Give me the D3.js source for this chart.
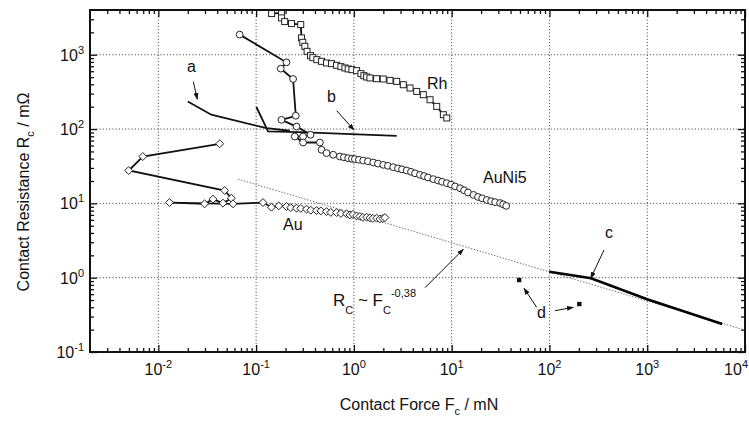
<!DOCTYPE html>
<html><head><meta charset="utf-8">
<script src="https://cdn.jsdelivr.net/npm/d3@7"></script>
<style>
body{margin:0;background:#fff;}
svg text{font-family:"Liberation Sans", Arial, Helvetica, sans-serif; fill:#111;}
</style></head><body>
<svg id="chart" width="749" height="421"></svg>
<script>
// ---- tick labels ----
const xTickValues = [0.01, 0.1, 1, 10, 100, 1000, 10000];
const xTickExponents = ["-2", "-1", "0", "1", "2", "3", "4"];
const yTickValues = [0.1, 1, 10, 100, 1000];
const yTickExponents = ["-1", "0", "1", "2", "3"];

// ---- Rh (squares) ----
const rhForce = [0.144,0.182,0.182,0.196,0.230,0.286,0.291,0.300,0.315,0.332,0.360,0.380,0.418,0.467,0.525,0.591,0.665,0.736,0.809,0.874,0.954,1.066,1.18,1.266,1.349,1.459,1.708,1.996,2.339,2.739,3.2,3.75,4.39,5.13,6.01,7.03,8.22,8.91];
const rhResistance = [3580,3660,3133,2793,2625,2545,1685,1469,1298,1111,972,914,859,815,775,759,720,691,664,644,630,611,556,523,502,487,476,472,452,438,395,357,321,290,248,202,156,141];

// ---- AuNi5 (circles) ----
const auni5Force = [0.0679,0.2044,0.1787,0.2388,0.2545,0.1816,0.2588,0.360,0.302,0.2485,0.302,0.449,0.467,0.525,0.614,0.719,0.790,0.874,0.954,1.024,1.125,1.245,1.391,1.577,1.762,1.996,2.229,2.527,2.824,3.103,3.467,3.837,4.217,4.745,5.215,5.73,6.49,7.26,7.97,8.91,9.86,10.83,12.19,13.4,14.7,16.7,18.6,20.5,22.9,25.3,27.8,31.3,33.6,36.1];
const auni5Resistance = [1866,790,650,472,151,133,108,83.8,79.4,79.4,65.9,65.9,52.6,47.5,45.1,42.7,41.7,40.6,39.8,39.4,38.6,37.7,36.8,35.5,34.3,33.0,32.0,30.7,29.6,28.7,27.7,26.6,25.4,24.2,23.3,22.3,21.2,20.3,19.5,18.7,17.9,16.9,16.0,15.0,14.0,13.0,12.2,11.7,11.1,10.7,10.4,10.1,9.7,9.25];

// ---- Au (diamonds) ----
const auForce = [0.0424,0.00694,0.00498,0.0477,0.0558,0.0458,0.0362,0.0297,0.0130,0.058,0.1177,0.1435,0.1704,0.2044,0.2262,0.2588,0.2864,0.3276,0.3625,0.4148,0.459,0.525,0.581,0.665,0.736,0.842,0.910,0.977,1.066,1.152,1.236,1.349,1.459,1.565,1.708,1.846,1.982,2.078];
const auResistance = [63.4,42.7,27.7,14.9,11.75,10.06,11.4,9.85,10.25,9.85,10.25,8.89,9.25,9.06,8.75,8.62,8.56,8.35,8.09,8.0,7.92,7.75,7.56,7.52,7.33,7.22,7.0,7.11,6.78,6.68,6.48,6.52,6.38,6.28,6.32,6.18,6.26,6.44];

// ---- curves a, b, c ----
const aForce = [0.02, 0.0348, 0.1276, 0.221];
const aResistance = [235, 156, 103, 94.9];
const bForce = [0.1007, 0.1324, 0.28, 2.74];
const bResistance = [198, 92.9, 91.2, 81.2];
const cForce = [99.5, 191, 266, 998, 5850];
const cResistance = [1.205, 1.054, 0.982, 0.512, 0.238];

// ---- points d ----
const dForce = [49, 202];
const dResistance = [0.93, 0.442];

// ---- fit R ~ F^-0.38 (end points) ----
const fitForce = [0.0653, 10000];
const fitResistance = [21.2, 0.197];

const zip = (a, b) => a.map((v, i) => [v, b[i]]);

const svg = d3.select("#chart");
const L = 90, R = 745, T = 10, B = 352;
const x = d3.scaleLog().domain([0.002, 10000]).range([L, R]);
const y = d3.scaleLog().domain([0.1, 4000]).range([B, T]);

const defs = svg.append("defs");
defs.append("marker").attr("id", "arr").attr("viewBox", "0 0 10 10")
  .attr("refX", 9).attr("refY", 5).attr("markerWidth", 7).attr("markerHeight", 7)
  .attr("orient", "auto").attr("markerUnits", "userSpaceOnUse")
  .append("path").attr("d", "M0,1.5 L10,5 L0,8.5 z").attr("fill", "#111");
defs.append("clipPath").attr("id", "plotclip").append("rect")
  .attr("x", L).attr("y", T).attr("width", R - L).attr("height", B - T);

// grid
const grid = svg.append("g").attr("stroke", "#444").attr("stroke-width", 0.9).attr("stroke-dasharray", "1.2,2");
grid.selectAll("line.gx").data(xTickValues.filter(v => v < 10000)).join("line")
  .attr("x1", d => x(d)).attr("x2", d => x(d)).attr("y1", T).attr("y2", B);
grid.selectAll("line.gy").data(yTickValues.filter(v => v > 0.1)).join("line")
  .attr("y1", d => y(d)).attr("y2", d => y(d)).attr("x1", L).attr("x2", R);

// minor tick values
const xMinor = [];
for (let e = -3; e <= 3; e++) for (let m = 2; m <= 9; m++) { const v = m * Math.pow(10, e); if (v > 0.002 && v < 10000) xMinor.push(v); }
const yMinor = [];
for (let e = -1; e <= 3; e++) for (let m = 2; m <= 9; m++) { const v = m * Math.pow(10, e); if (v > 0.1 && v < 4000) yMinor.push(v); }

function axisStyle(g) { g.select(".domain").remove(); g.selectAll(".tick line").attr("stroke", "#111").attr("stroke-width", 1.3); }
svg.append("g").attr("transform", `translate(0,${B})`).call(d3.axisBottom(x).tickValues(xTickValues).tickSize(-7).tickFormat("")).call(axisStyle);
svg.append("g").attr("transform", `translate(0,${B})`).call(d3.axisBottom(x).tickValues(xMinor).tickSize(-4).tickFormat("")).call(axisStyle);
svg.append("g").attr("transform", `translate(0,${T})`).call(d3.axisTop(x).tickValues(xTickValues).tickSize(-7).tickFormat("")).call(axisStyle);
svg.append("g").attr("transform", `translate(0,${T})`).call(d3.axisTop(x).tickValues(xMinor).tickSize(-4).tickFormat("")).call(axisStyle);
svg.append("g").attr("transform", `translate(${L},0)`).call(d3.axisLeft(y).tickValues(yTickValues).tickSize(-7).tickFormat("")).call(axisStyle);
svg.append("g").attr("transform", `translate(${L},0)`).call(d3.axisLeft(y).tickValues(yMinor).tickSize(-4).tickFormat("")).call(axisStyle);
svg.append("g").attr("transform", `translate(${R},0)`).call(d3.axisRight(y).tickValues(yTickValues).tickSize(-7).tickFormat("")).call(axisStyle);
svg.append("g").attr("transform", `translate(${R},0)`).call(d3.axisRight(y).tickValues(yMinor).tickSize(-4).tickFormat("")).call(axisStyle);

// tick labels
xTickValues.forEach((v, i) => {
  const last = i === xTickValues.length - 1;
  const t = svg.append("text").attr("x", last ? 748 : x(v)).attr("y", 375)
    .attr("text-anchor", last ? "end" : "middle").attr("font-size", 16);
  t.append("tspan").text("10");
  t.append("tspan").attr("dy", -7).attr("font-size", 11).text(xTickExponents[i]);
});
yTickValues.forEach((v, i) => {
  const t = svg.append("text").attr("x", 84).attr("y", y(v) + 6).attr("text-anchor", "end").attr("font-size", 16);
  t.append("tspan").text("10");
  t.append("tspan").attr("dy", -7).attr("font-size", 11).text(yTickExponents[i]);
});

// axis titles
const xt = svg.append("text").attr("x", 419).attr("y", 410).attr("text-anchor", "middle").attr("font-size", 16);
xt.append("tspan").text("Contact Force F");
xt.append("tspan").attr("dy", 5).attr("font-size", 11).text("c");
xt.append("tspan").attr("dy", -5).text(" / mN");
const yt = svg.append("text").attr("transform", "translate(29,192) rotate(-90)").attr("text-anchor", "middle").attr("font-size", 16);
yt.append("tspan").text("Contact Resistance R");
yt.append("tspan").attr("dy", 5).attr("font-size", 11).text("c");
yt.append("tspan").attr("dy", -5).text(" / m\u03A9");

const plot = svg.append("g").attr("clip-path", "url(#plotclip)");
const line = d3.line().x(d => x(d[0])).y(d => y(d[1]));

// fit line
plot.append("path").datum(zip(fitForce, fitResistance)).attr("d", line)
  .attr("fill", "none").attr("stroke", "#777").attr("stroke-width", 1).attr("stroke-dasharray", "1.5,1.5");

// curves a, b, c
plot.append("path").datum(zip(aForce, aResistance)).attr("d", line).attr("fill", "none").attr("stroke", "#111").attr("stroke-width", 1.8);
plot.append("path").datum(zip(bForce, bResistance)).attr("d", line).attr("fill", "none").attr("stroke", "#111").attr("stroke-width", 1.8);
plot.append("path").datum(zip(cForce, cResistance)).attr("d", line).attr("fill", "none").attr("stroke", "#000").attr("stroke-width", 2.6);

// series lines
[[rhForce, rhResistance], [auni5Force, auni5Resistance], [auForce, auResistance]].forEach(([f, r]) => {
  plot.append("path").datum(zip(f, r)).attr("d", line).attr("fill", "none").attr("stroke", "#111").attr("stroke-width", 1.8);
});

// markers
plot.selectAll("rect.rh").data(zip(rhForce, rhResistance)).join("rect")
  .attr("x", d => x(d[0]) - 3).attr("y", d => y(d[1]) - 3).attr("width", 6).attr("height", 6)
  .attr("fill", "#fff").attr("stroke", "#222").attr("stroke-width", 1);
plot.selectAll("circle.auni").data(zip(auni5Force, auni5Resistance)).join("circle")
  .attr("cx", d => x(d[0])).attr("cy", d => y(d[1])).attr("r", 3.4)
  .attr("fill", "#fff").attr("stroke", "#222").attr("stroke-width", 1);
const diamond = d3.symbol().type(d3.symbolDiamond2).size(40);
plot.selectAll("path.au").data(zip(auForce, auResistance)).join("path")
  .attr("d", diamond).attr("transform", d => `translate(${x(d[0])},${y(d[1])})`)
  .attr("fill", "#fff").attr("stroke", "#222").attr("stroke-width", 1);
plot.selectAll("rect.d").data(zip(dForce, dResistance)).join("rect")
  .attr("x", d => x(d[0]) - 2.2).attr("y", d => y(d[1]) - 2.2).attr("width", 4.4).attr("height", 4.4).attr("fill", "#111");

// frame
svg.append("rect").attr("x", L).attr("y", T).attr("width", R - L).attr("height", B - T)
  .attr("fill", "none").attr("stroke", "#111").attr("stroke-width", 2);

// annotations
const ann = svg.append("g");
function label(t, px, py) { ann.append("text").attr("x", px).attr("y", py).attr("font-size", 16).text(t); }
function arrow(x1, y1, x2, y2) {
  ann.append("line").attr("x1", x1).attr("y1", y1).attr("x2", x2).attr("y2", y2)
    .attr("stroke", "#111").attr("stroke-width", 1).attr("marker-end", "url(#arr)");
}
label("a", 187, 72); arrow(193.3, 81.7, 197.3, 99.3);
label("b", 327, 102); arrow(336.7, 110.7, 354, 130);
label("Rh", 427, 89);
label("AuNi5", 483, 183);
label("Au", 283, 230);
label("c", 605, 238); arrow(604, 250, 590.7, 278.3);
label("d", 537, 318); arrow(536.7, 307.3, 524, 288.3); arrow(555, 310.7, 573.3, 307.3);
const fitText = ann.append("text").attr("x", 333).attr("y", 306).attr("font-size", 17);
fitText.append("tspan").text("R");
fitText.append("tspan").attr("dy", 8).attr("font-size", 11).text("C");
fitText.append("tspan").attr("dy", -8).text(" ~ F");
fitText.append("tspan").attr("dy", 8).attr("font-size", 11).text("C");
fitText.append("tspan").attr("dy", -17).attr("font-size", 11).text("-0,38");
arrow(425, 287.7, 463.3, 249.3);
</script></body></html>
